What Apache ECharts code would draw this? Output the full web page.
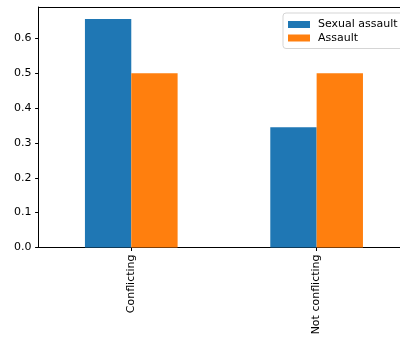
<!DOCTYPE html>
<html>
<head>
<meta charset="utf-8">
<script src="https://cdn.jsdelivr.net/npm/echarts@6/dist/echarts.min.js"></script>
<style>
  html, body { margin: 0; padding: 0; background: #fff; }
  #chart { width: 400px; height: 339px; }
</style>
</head>
<body>
<div id="chart"></div>
<script>
// Share of cases by category
const categories = ['Conflicting', 'Not conflicting'];
const sexualAssault = [0.655, 0.345];
const assault = [0.5, 0.5];
const yTicks = [0, 0.1, 0.2, 0.3, 0.4, 0.5, 0.6];

const chart = echarts.init(document.getElementById('chart'), null, { renderer: 'canvas' });
const font = 'DejaVu Sans';

chart.setOption({
  animation: false,
  backgroundColor: '#fff',
  grid: {
    left: 38.6, top: 7, width: 370.7, height: 240.5,
    outerBoundsMode: 'none', containLabel: false, show: false
  },
  legend: {
    data: ['Sexual assault', 'Assault'],
    orient: 'vertical',
    left: 283, top: 13,
    padding: [6, 12, 5, 5],
    itemWidth: 22, itemHeight: 7, itemGap: 2.5,
    borderColor: '#d5d5d5', borderWidth: 1, borderRadius: 3,
    backgroundColor: 'rgba(255,255,255,0.8)',
    icon: 'rect',
    textStyle: { fontFamily: font, fontSize: 11, color: '#000', padding: [0, 0, 0, 3] }
  },
  xAxis: [
    {
      type: 'category',
      data: categories,
      boundaryGap: true,
      axisLine: { show: true, lineStyle: { color: '#000', width: 1 } },
      axisTick: { show: true, alignWithLabel: true, length: 3.5, lineStyle: { color: '#000' } },
      axisLabel: { rotate: 90, margin: 7, fontFamily: font, fontSize: 11, color: '#000' },
      splitLine: { show: false }
    },
    {
      // top frame line of the plot area
      type: 'category',
      data: categories,
      position: 'top',
      axisLine: { show: true, lineStyle: { color: '#000', width: 1 } },
      axisTick: { show: false },
      axisLabel: { show: false },
      splitLine: { show: false }
    }
  ],
  yAxis: {
    type: 'value',
    min: 0, max: 0.6897, interval: 0.1,
    axisLine: { show: true, lineStyle: { color: '#000', width: 1 } },
    axisTick: { show: true, length: 3.5, lineStyle: { color: '#000' }, customValues: yTicks },
    axisLabel: {
      customValues: yTicks,
      margin: 7, fontFamily: font, fontSize: 11, color: '#000',
      formatter: v => v.toFixed(1)
    },
    splitLine: { show: false }
  },
  series: [
    {
      name: 'Sexual assault', type: 'bar', data: sexualAssault,
      barWidth: '25%', barGap: '0%',
      itemStyle: { color: '#1f77b4' }
    },
    {
      name: 'Assault', type: 'bar', data: assault,
      barWidth: '25%', barGap: '0%',
      itemStyle: { color: '#ff7f0e' }
    }
  ]
});
</script>
</body>
</html>
